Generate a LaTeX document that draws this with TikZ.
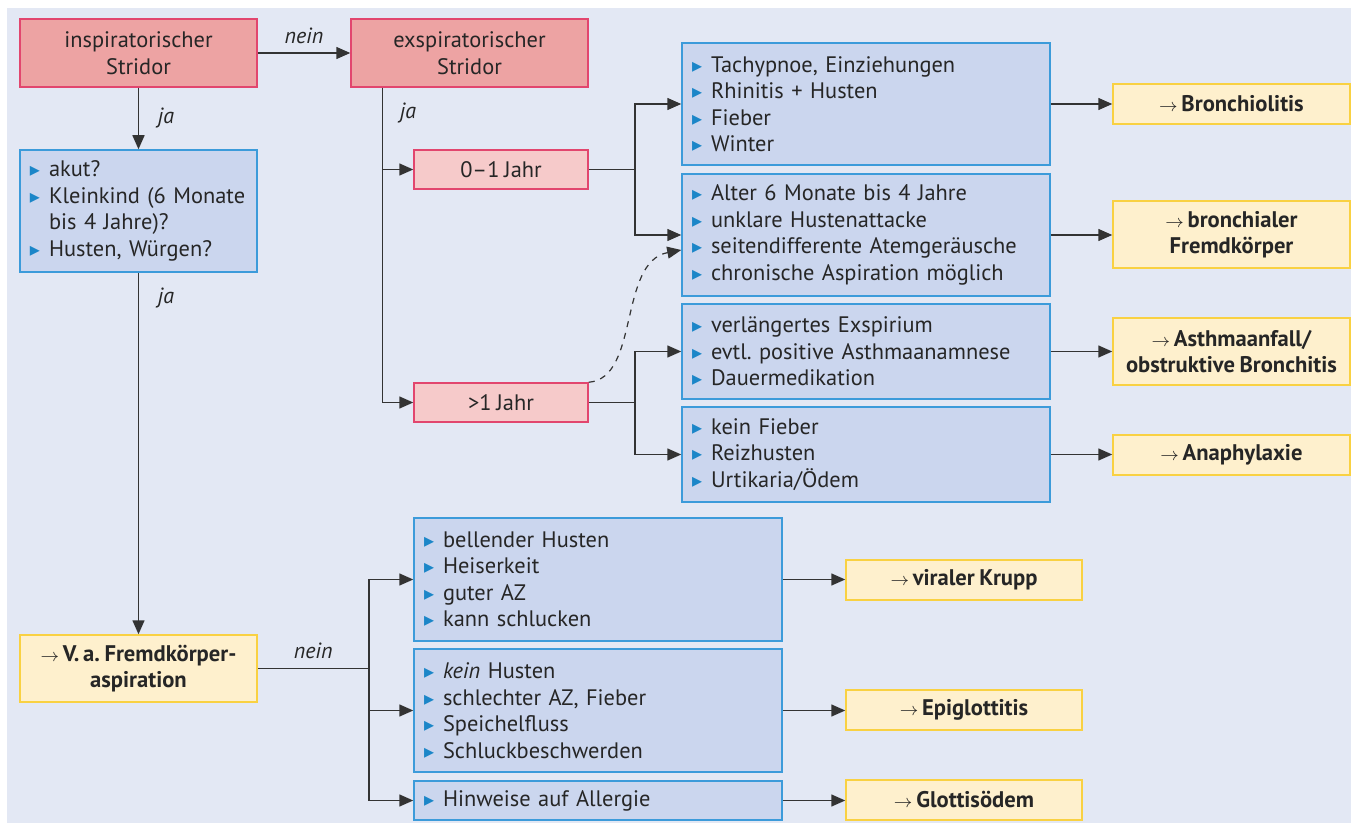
\documentclass[tikz,border=0pt]{standalone}
\usepackage{fontspec}
\setmainfont{PT Sans}[WordSpace=0.8]
\newfontfamily\symfont{DejaVu Sans}
\usetikzlibrary{arrows.meta}

\definecolor{bgblue}{HTML}{E3E8F4}
\definecolor{redfill}{HTML}{EDA3A3}
\definecolor{pinkfill}{HTML}{F6CACA}
\definecolor{redline}{HTML}{E2466E}
\definecolor{bluefill}{HTML}{CBD6EE}
\definecolor{blueline}{HTML}{3C9BDA}
\definecolor{yelfill}{HTML}{FEF0CD}
\definecolor{yelline}{HTML}{F9D142}
\definecolor{bulblue}{HTML}{1B86C8}
\definecolor{txtdark}{HTML}{262626}
\definecolor{linedark}{HTML}{333333}

\newcommand{\blt}{{\color{bulblue}\symfont\fontsize{10}{10}\selectfont ▸}\hspace{4.5pt}}
\newcommand{\nbl}{\phantom{\blt}}
\newcommand{\res}{{\small$\rightarrow$}\,}

\begin{document}
\begin{tikzpicture}[x=0.5pt, y=-0.5pt,
    font=\fontsize{11.2}{13.25}\selectfont\frenchspacing, text=txtdark,
    redbox/.style={draw=redline, fill=redfill, line width=0.75pt, align=center,
        minimum width=118.5pt, minimum height=34pt, inner sep=2pt},
    pinkbox/.style={draw=redline, fill=pinkfill, line width=0.75pt,
        minimum width=87pt, minimum height=19.5pt, inner sep=2pt},
    listbox/.style={draw=blueline, fill=bluefill, line width=0.75pt, align=left,
        text width=#1, inner xsep=5pt, inner ysep=2pt},
    listbox/.default=174pt,
    resbox/.style={draw=yelline, fill=yelfill, line width=0.75pt, align=center,
        font=\fontsize{11.3}{13.25}\selectfont\frenchspacing\bfseries,
        minimum width=118.5pt, minimum height=20pt, inner sep=1pt},
    conn/.style={draw=linedark, line width=0.75pt, -{Triangle[length=7pt,width=6pt]}},
    lbl/.style={font=\fontsize{11}{13.25}\selectfont\itshape}]

    \useasboundingbox (0,0) rectangle (1351,824);
    \fill[bgblue] (7,8) rectangle (1351,823);

    % Stridor
    \node[redbox] (insp) at (138.5,53) {inspiratorischer\\Stridor};
    \node[redbox] (exsp) at (469.5,53) {exspiratorischer\\Stridor};

    \node[listbox=108.5pt, minimum height=61pt] (akut) at (138.5,211)
        {\blt akut?\\\blt Kleinkind (6 Monate\\\nbl bis 4 Jahre)?\\\blt Husten, Würgen?};
    \node[resbox, minimum height=33.5pt] (va) at (138.5,668.5)
        {\res V.\,a. Fremdkörper-\\aspiration};

    % Alter
    \node[pinkbox] (j01) at (501,169.5) {0–1 Jahr};
    \node[pinkbox] (j1) at (501,402.5) {>1 Jahr};

    \node[listbox, minimum height=61pt] (tach) at (866,104)
        {\blt Tachypnoe, Einziehungen\\\blt Rhinitis + Husten\\\blt Fieber\\\blt Winter};
    \node[listbox, minimum height=61pt] (alter) at (866,235)
        {\blt Alter 6 Monate bis 4 Jahre\\\blt unklare Hustenattacke\\\blt seitendifferente Atemgeräusche\\\blt chronische Aspiration möglich};
    \node[listbox, minimum height=47.5pt] (exspir) at (866,351.5)
        {\blt verlängertes Exspirium\\\blt evtl. positive Asthmaanamnese\\\blt Dauermedikation};
    \node[listbox, minimum height=47.5pt] (fieber) at (866,454.5)
        {\blt kein Fieber\\\blt Reizhusten\\\blt Urtikaria/Ödem};

    \node[resbox] (bronch) at (1231.5,104) {\res Bronchiolitis};
    \node[resbox, minimum height=33.5pt] (fremd) at (1231.5,234.5) {\res bronchialer\\Fremdkörper};
    \node[resbox, minimum height=33.5pt] (asthma) at (1231.5,351.5) {\res Asthmaanfall/\\obstruktive Bronchitis};
    \node[resbox] (anaph) at (1231.5,455) {\res Anaphylaxie};

    % Fremdkoerper
    \node[listbox, minimum height=61.5pt] (bell) at (598,579.5)
        {\blt bellender Husten\\\blt Heiserkeit\\\blt guter AZ\\\blt kann schlucken};
    \node[listbox, minimum height=61.5pt] (kein) at (598,710.5)
        {\blt \textit{kein} Husten\\\blt schlechter AZ, Fieber\\\blt Speichelfluss\\\blt Schluckbeschwerden};
    \node[listbox, minimum height=19.5pt] (allerg) at (598,800.5)
        {\blt Hinweise auf Allergie};

    \node[resbox, minimum width=118pt] (krupp) at (964,580) {\res viraler Krupp};
    \node[resbox, minimum width=118pt] (epi) at (964,710) {\res Epiglottitis};
    \node[resbox, minimum width=118pt] (glott) at (964,800) {\res Glottisödem};

    % Verbindungen
    \draw[conn] (insp) -- node[lbl, above=1pt] {nein} (exsp);
    \draw[conn] (insp) -- node[lbl, right=6pt] {ja} (akut);
    \draw[conn] (akut) -- node[lbl, pos=0.07, right=6pt] {ja} (va);

    \coordinate (ex) at ([xshift=16pt]exsp.south west);
    \node[lbl] (exja) at (408,113) {ja};
    \draw[conn] (ex) |- (j01);
    \draw[conn] (ex) |- (j1);

    \draw[conn] (j01.east) -- ++(46,0) coordinate (ja) |- (tach);
    \draw[conn] (ja) |- (alter);
    \draw[conn] (j1.east) -- ++(46,0) coordinate (jb) |- (exspir);
    \draw[conn] (jb) |- (fieber);
    \draw[conn, dashed, line width=0.6pt] (j1.north east)
        .. controls (640,378) and (618,262) .. ([yshift=-7.5pt]alter.west);

    \draw[conn] (tach.east) -- (tach.east -| bronch.west);
    \draw[conn] (alter.east) -- (alter.east -| fremd.west);
    \draw[conn] (exspir.east) -- (exspir.east -| asthma.west);
    \draw[conn] (fieber.east) -- (fieber.east -| anaph.west);

    \draw[conn] (va.east) -- node[lbl, above=1pt] {nein} ++(111,0) coordinate (vb) |- (bell);
    \draw[conn] (vb) |- (kein);
    \draw[conn] (vb) |- (allerg);

    \draw[conn] (bell.east) -- (bell.east -| krupp.west);
    \draw[conn] (kein.east) -- (kein.east -| epi.west);
    \draw[conn] (allerg.east) -- (allerg.east -| glott.west);
\end{tikzpicture}
\end{document}
